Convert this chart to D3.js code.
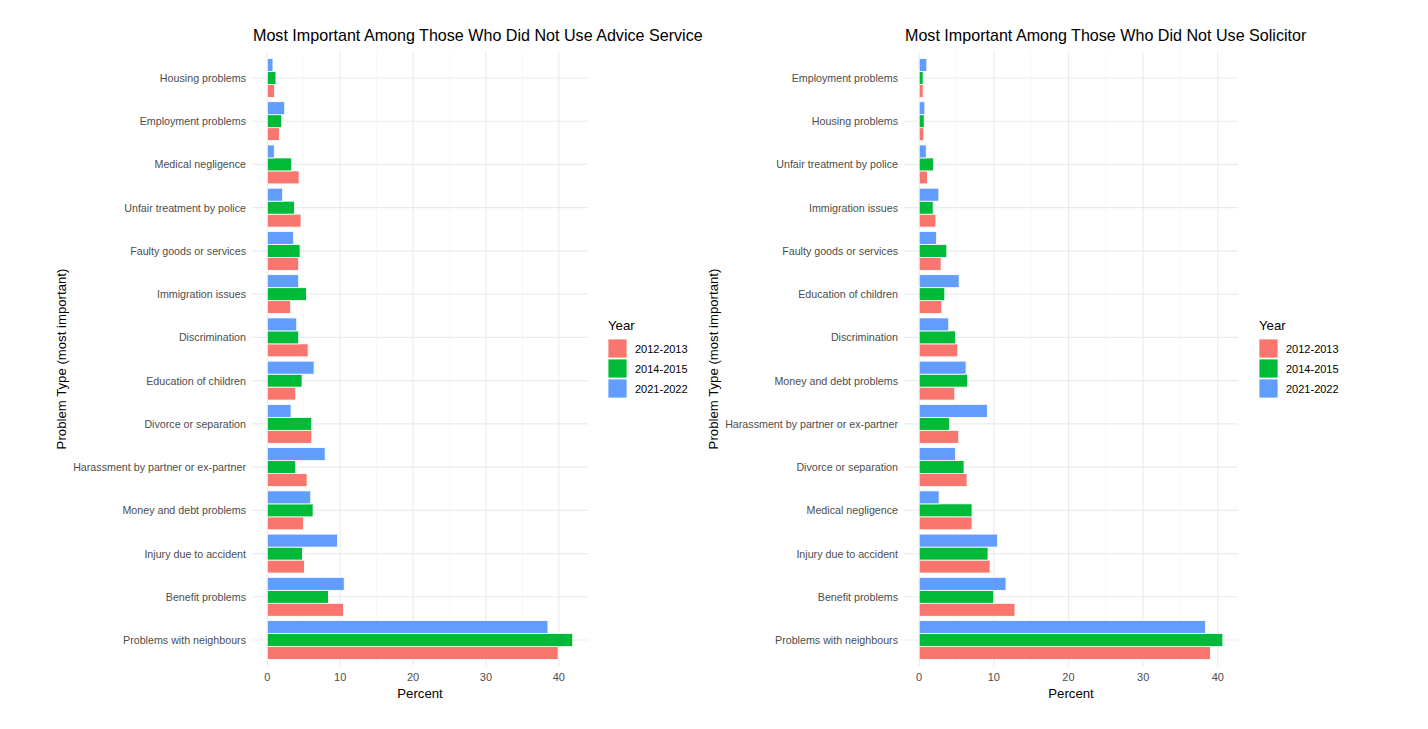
<!DOCTYPE html>
<html>
<head>
<meta charset="utf-8">
<script src="https://cdn.jsdelivr.net/npm/d3@7"></script>
<style>
  body { margin: 0; background: #fff; }
  svg { display: block; font-family: "Liberation Sans", Arial, Helvetica, sans-serif; }
</style>
</head>
<body>
<div id="chart"></div>
<script>
// ===========================
// Most important problem types, two facets side by side
// ===========================

const years = ['2012-2013', '2014-2015', '2021-2022'];
const yearColors = ['#F8766D', '#00BA38', '#619CFF'];

// left panel: did not use advice service (top to bottom)
const adviceCategories = [
    'Housing problems', 'Employment problems', 'Medical negligence', 'Unfair treatment by police',
    'Faulty goods or services', 'Immigration issues', 'Discrimination', 'Education of children',
    'Divorce or separation', 'Harassment by partner or ex-partner', 'Money and debt problems',
    'Injury due to accident', 'Benefit problems', 'Problems with neighbours'
];
const advice2012 = [1.0, 1.65, 4.36, 4.63, 4.31, 3.21, 5.6, 3.9, 6.1, 5.46, 4.95, 5.09, 10.46, 39.9];
const advice2014 = [1.19, 1.97, 3.35, 3.72, 4.5, 5.37, 4.31, 4.77, 6.1, 3.9, 6.28, 4.82, 8.39, 41.9];
const advice2021 = [0.78, 2.39, 0.96, 2.11, 3.62, 4.31, 4.04, 6.42, 3.26, 7.94, 5.96, 9.63, 10.55, 38.5];

// right panel: did not use solicitor (top to bottom)
const solicitorCategories = [
    'Employment problems', 'Housing problems', 'Unfair treatment by police', 'Immigration issues',
    'Faulty goods or services', 'Education of children', 'Discrimination', 'Money and debt problems',
    'Harassment by partner or ex-partner', 'Divorce or separation', 'Medical negligence',
    'Injury due to accident', 'Benefit problems', 'Problems with neighbours'
];
const solicitor2012 = [0.53, 0.62, 1.11, 2.23, 2.94, 3.03, 5.17, 4.77, 5.3, 6.41, 7.08, 9.49, 12.83, 39.02];
const solicitor2014 = [0.53, 0.67, 1.92, 1.87, 3.7, 3.43, 4.86, 6.46, 4.05, 6.01, 7.08, 9.22, 9.98, 40.67];
const solicitor2021 = [1.02, 0.76, 0.94, 2.63, 2.32, 5.35, 3.96, 6.28, 9.13, 4.86, 2.67, 10.51, 11.63, 38.35];

const xTicks = [0, 10, 20, 30, 40];
const xMinorTicks = [5, 15, 25, 35];

const width = 1428, height = 729;

const svg = d3.select('#chart')
    .append('svg')
    .attr('width', width)
    .attr('height', height);

function drawPanel(opts) {
    const { left, right, top, bottom, title, categories, series, legendX, yTitleX } = opts;

    const rows = [];
    categories.forEach((c, i) => {
        years.forEach((y, j) => rows.push({ category: c, year: y, value: series[j][i] }));
    });

    const maxVal = d3.max(rows, d => d.value);
    const xScale = d3.scaleLinear()
        .domain([-0.05 * maxVal, 1.05 * maxVal])
        .range([left, right]);

    const yScale = d3.scalePoint()
        .domain(categories)
        .range([top, bottom])
        .padding(0.6);

    const step = yScale.step();
    const dodge = d3.scaleBand()
        .domain(years.slice().reverse())
        .range([-0.45 * step, 0.45 * step]);

    const colorScale = d3.scaleOrdinal().domain(years).range(yearColors);

    const g = svg.append('g');

    // grid
    g.append('g')
        .selectAll('line')
        .data(xMinorTicks)
        .join('line')
        .attr('x1', d => xScale(d)).attr('x2', d => xScale(d))
        .attr('y1', top).attr('y2', bottom)
        .attr('stroke', '#f2f2f2')
        .attr('stroke-width', 0.6);

    g.append('g')
        .selectAll('line')
        .data(xTicks)
        .join('line')
        .attr('x1', d => xScale(d)).attr('x2', d => xScale(d))
        .attr('y1', top).attr('y2', bottom)
        .attr('stroke', '#ebebeb')
        .attr('stroke-width', 1.1);

    g.append('g')
        .selectAll('line')
        .data(categories)
        .join('line')
        .attr('x1', left).attr('x2', right)
        .attr('y1', d => yScale(d)).attr('y2', d => yScale(d))
        .attr('stroke', '#ebebeb')
        .attr('stroke-width', 1.1);

    // bars
    g.append('g')
        .selectAll('rect')
        .data(rows)
        .join('rect')
        .attr('x', xScale(0))
        .attr('y', d => yScale(d.category) + dodge(d.year))
        .attr('width', d => xScale(d.value) - xScale(0))
        .attr('height', dodge.bandwidth())
        .attr('fill', d => colorScale(d.year))
        .attr('stroke', 'white')
        .attr('stroke-width', 0.8);

    // category labels
    g.append('g')
        .selectAll('text')
        .data(categories)
        .join('text')
        .attr('x', left - 6)
        .attr('y', d => yScale(d) + 4)
        .attr('text-anchor', 'end')
        .attr('fill', '#4d4d4d')
        .style('font-size', '10.7px')
        .text(d => d);

    // x tick labels
    g.append('g')
        .selectAll('text')
        .data(xTicks)
        .join('text')
        .attr('x', d => xScale(d))
        .attr('y', bottom + 15)
        .attr('text-anchor', 'middle')
        .attr('fill', '#4d4d4d')
        .style('font-size', '11px')
        .text(d => d);

    g.append('text')
        .attr('x', (left + right) / 2)
        .attr('y', bottom + 32)
        .attr('text-anchor', 'middle')
        .style('font-size', '13.2px')
        .text('Percent');

    g.append('text')
        .attr('transform', `translate(${yTitleX},${(top + bottom) / 2}) rotate(-90)`)
        .attr('text-anchor', 'middle')
        .style('font-size', '13.2px')
        .text('Problem Type (most important)');

    g.append('text')
        .attr('x', left + 1)
        .attr('y', 41)
        .style('font-size', '16.1px')
        .text(title);

    // legend
    const legend = g.append('g')
        .attr('transform', `translate(${legendX}, 330)`);

    legend.append('text')
        .style('font-size', '13.2px')
        .text('Year');

    years.forEach((y, i) => {
        legend.append('rect')
            .attr('x', 0)
            .attr('y', 9 + i * 20)
            .attr('width', 19)
            .attr('height', 19)
            .attr('fill', colorScale(y))
            .attr('stroke', 'white')
            .attr('stroke-width', 0.8);
        legend.append('text')
            .attr('x', 27)
            .attr('y', 9 + i * 20 + 13.5)
            .style('font-size', '11px')
            .text(y);
    });
}

drawPanel({
    left: 252, right: 588, top: 52, bottom: 666,
    title: 'Most Important Among Those Who Did Not Use Advice Service',
    categories: adviceCategories,
    series: [advice2012, advice2014, advice2021],
    legendX: 608, yTitleX: 66
});

drawPanel({
    left: 904, right: 1238, top: 52, bottom: 666,
    title: 'Most Important Among Those Who Did Not Use Solicitor',
    categories: solicitorCategories,
    series: [solicitor2012, solicitor2014, solicitor2021],
    legendX: 1259, yTitleX: 718
});
</script>
</body>
</html>
